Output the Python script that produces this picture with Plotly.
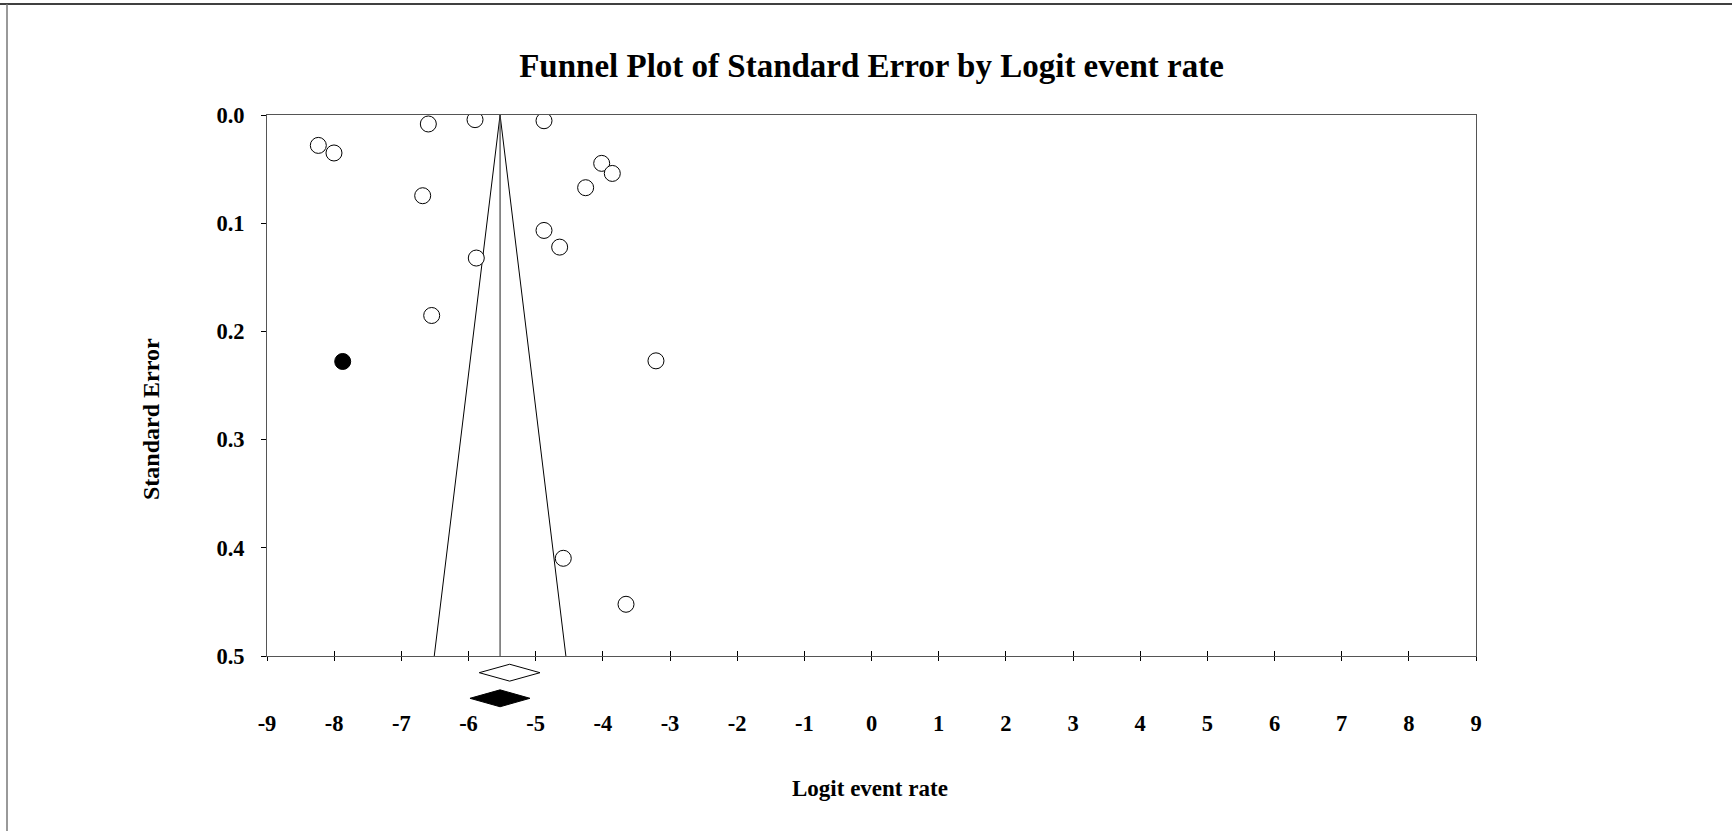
import plotly.graph_objects as go

# ---- data ----
study_logit = [-8.236, -8.003, -6.598, -5.903, -4.876, -6.682, -4.017, -3.859,
               -4.256, -4.876, -4.643, -5.884, -6.548, -3.209, -4.589, -3.655]
study_se = [0.0281, 0.0351, 0.0083, 0.0043, 0.0053, 0.0746, 0.0447, 0.0540,
            0.0672, 0.1067, 0.1221, 0.1322, 0.1853, 0.2272, 0.4097, 0.4522]
imputed_logit = [-7.873]
imputed_se = [0.2278]

funnel_center = -5.53
se_max = 0.5
z = 1.96

summary_labels = ["Observed", "Adjusted"]
summary_est = [-5.387, -5.53]
summary_lo = [-5.840, -5.978]
summary_hi = [-4.936, -5.085]
summary_row = [1, 0]
summary_fill = ["white", "black"]

x_ticks = list(range(-9, 10))
y_ticks = [0.0, 0.1, 0.2, 0.3, 0.4, 0.5]

# ---- layout geometry (pixels) ----
W, H = 1732, 831
L, R, T, B = 267, W - 1476, 115, 121
plot_bottom_px = 656
paper_h = H - T - B
paper_w = W - L - R
main_lo = (H - B - plot_bottom_px) / paper_h

def px_x(p):
    return (p - L) / paper_w

def px_y(p):
    return (H - B - p) / paper_h

FONT = "Liberation Serif"

fig = go.Figure()

# funnel
fig.add_trace(go.Scatter(
    x=[funnel_center - z * se_max, funnel_center, funnel_center + z * se_max],
    y=[se_max, 0, se_max], mode="lines",
    line=dict(color="black", width=1), hoverinfo="skip"))
fig.add_trace(go.Scatter(
    x=[funnel_center, funnel_center], y=[0, se_max], mode="lines",
    line=dict(color="#444444", width=1.2), hoverinfo="skip"))

# studies
fig.add_trace(go.Scatter(
    x=study_logit, y=study_se, mode="markers",
    marker=dict(size=16, color="white", line=dict(color="black", width=1))))
fig.add_trace(go.Scatter(
    x=imputed_logit, y=imputed_se, mode="markers",
    marker=dict(size=16, color="black", line=dict(color="black", width=1))))

# summary diamonds
half_h = 0.33
for est, lo, hi, row, fc in zip(summary_est, summary_lo, summary_hi, summary_row, summary_fill):
    fig.add_trace(go.Scatter(
        x=[lo, est, hi, est, lo], y=[row, row + half_h, row, row - half_h, row],
        mode="lines", fill="toself", fillcolor=fc,
        line=dict(color="black", width=1), xaxis="x", yaxis="y2", hoverinfo="skip"))

tickfont = dict(family=FONT, size=22.5, color="black")

fig.update_layout(
    width=W, height=H,
    margin=dict(l=L, r=R, t=T, b=B, pad=0),
    paper_bgcolor="white", plot_bgcolor="white",
    showlegend=False,
    title=dict(text="<b>Funnel Plot of Standard Error by Logit event rate</b>",
               x=px_x(871.5), xref="paper", xanchor="center",
               y=1 - 65 / H, yref="container", yanchor="middle",
               font=dict(family=FONT, size=33, color="black")),
    xaxis=dict(range=[-9, 9], tickvals=x_ticks,
               ticktext=[f"<b>{v}</b>" for v in x_ticks],
               ticks="inside", ticklen=5, tickcolor="black", tickwidth=1,
               showline=True, linecolor="#555555", linewidth=1, mirror=True,
               showgrid=False, zeroline=False, anchor="y",
               ticklabelstandoff=47, tickfont=tickfont),
    xaxis2=dict(range=[-9, 9], tickvals=x_ticks, overlaying="x", anchor="y",
                ticks="outside", ticklen=4, tickcolor="black", tickwidth=1,
                showticklabels=False, showgrid=False, zeroline=False,
                showline=False, side="bottom"),
    yaxis=dict(range=[0.5, 0], tickvals=y_ticks,
               ticktext=[f"<b>{v:.1f}</b>" for v in y_ticks],
               ticks="outside", ticklen=5, tickcolor="black", tickwidth=1,
               showline=True, linecolor="#555555", linewidth=1, mirror=True,
               showgrid=False, zeroline=False, domain=[main_lo, 1],
               ticklabelstandoff=12, tickfont=tickfont),
    yaxis2=dict(range=[-0.457, 1.652], domain=[0, main_lo], anchor="x",
                visible=False, showgrid=False, zeroline=False),
    annotations=[
        dict(text="<b>Standard Error</b>", xref="paper", yref="paper",
             x=px_x(151), y=px_y(419), textangle=-90, showarrow=False,
             xanchor="center", yanchor="middle",
             font=dict(family=FONT, size=24, color="black")),
        dict(text="<b>Logit event rate</b>", xref="paper", yref="paper",
             x=px_x(870), y=px_y(788), showarrow=False,
             xanchor="center", yanchor="middle",
             font=dict(family=FONT, size=23, color="black")),
    ],
    shapes=[
        dict(type="line", xref="paper", yref="paper",
             x0=px_x(0), x1=px_x(W), y0=px_y(4), y1=px_y(4),
             line=dict(color="black", width=1.5)),
        dict(type="line", xref="paper", yref="paper",
             x0=px_x(7), x1=px_x(7), y0=px_y(4), y1=px_y(H),
             line=dict(color="#777777", width=1.5)),
    ],
)

# dummy trace to activate xaxis2 ticks
fig.add_trace(go.Scatter(x=[None], y=[None], xaxis="x2", yaxis="y",
                         hoverinfo="skip", showlegend=False))

fig.write_html("out.html", config={"displayModeBar": False},
               post_script="document.body.style.margin='0';document.body.style.overflow='hidden';")
